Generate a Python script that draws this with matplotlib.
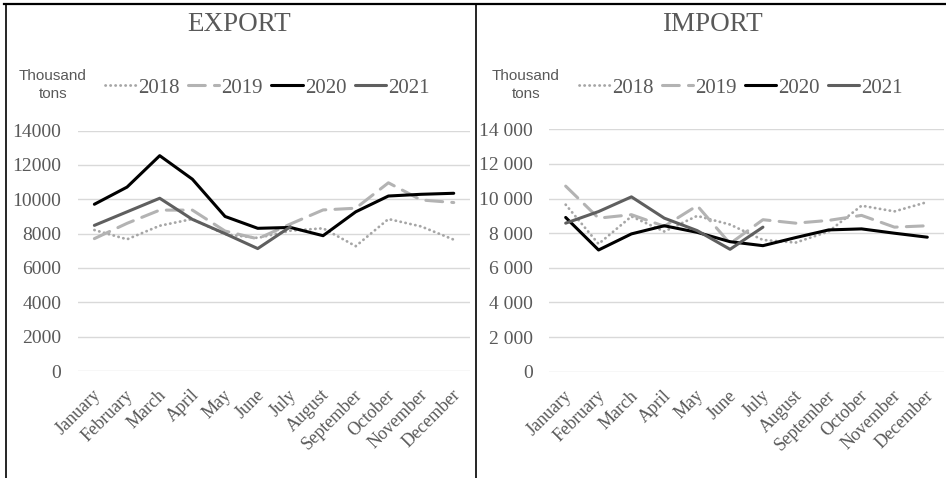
import matplotlib
matplotlib.use('Agg')
import matplotlib.pyplot as plt
from matplotlib.lines import Line2D
from matplotlib.ticker import FuncFormatter
from matplotlib.transforms import ScaledTranslation

months = ['January', 'February', 'March', 'April', 'May', 'June', 'July',
          'August', 'September', 'October', 'November', 'December']
years = ['2018', '2019', '2020', '2021']

# Export, thousand tons
export_2018 = [8210, 7670, 8460, 8850, 7960, 7750, 8170, 8310, 7270, 8850, 8420, 7650]
export_2019 = [7710, 8600, 9370, 9370, 8150, 7700, 8560, 9380, 9480, 10960, 9960, 9810]
export_2020 = [9710, 10710, 12540, 11170, 9000, 8310, 8360, 7880, 9270, 10190, 10290, 10350]
export_2021 = [8480, 9270, 10060, 8830, 8000, 7130, 8400]

# Import, thousand tons
import_2018 = [9650, 7380, 8970, 8100, 9000, 8500, 7610, 7460, 8100, 9590, 9260, 9800]
import_2019 = [10720, 8870, 9070, 8400, 9590, 7400, 8780, 8580, 8740, 9030, 8350, 8430]
import_2020 = [8910, 7030, 7960, 8430, 8050, 7510, 7280, 7750, 8190, 8250, 8000, 7770]
import_2021 = [8580, 9250, 10100, 8870, 8150, 7070, 8350]

yticks = [0, 2000, 4000, 6000, 8000, 10000, 12000, 14000]

text_grey = '#595959'
serif = ['Liberation Serif', 'DejaVu Serif']

styles = [
    dict(color='#a6a6a6', lw=2.0, ls=(0, (0.1, 1.7)), dash_capstyle='round'),
    dict(color='#b3b3b3', lw=2.2, ls=(0, (5.5, 3.0)), dash_capstyle='round'),
    dict(color='#000000', lw=2.2, ls='-', solid_capstyle='round'),
    dict(color='#5f5f5f', lw=2.2, ls='-', solid_capstyle='round'),
]

fig = plt.figure(figsize=(9.46, 4.78), dpi=100)


def draw_panel(rect, series, title, sep, title_x):
    ax = fig.add_axes(rect)
    for vals, st in zip(series, styles):
        ax.plot(range(len(vals)), vals, **st, clip_on=False, zorder=3)
    ax.set_xlim(-0.5, 11.5)
    ax.set_ylim(0, 14000)
    ax.set_yticks(yticks)
    if sep:
        ax.yaxis.set_major_formatter(FuncFormatter(lambda v, p: f'{int(v):,}'.replace(',', ' ')))
    else:
        ax.yaxis.set_major_formatter(FuncFormatter(lambda v, p: f'{int(v)}'))
    ax.set_xticks(range(12))
    ax.set_xticklabels(months, rotation=45, ha='right', va='center',
                       rotation_mode='anchor')
    ax.grid(axis='y', color='#d9d9d9', lw=1.0)
    ax.set_axisbelow(True)
    for s in ax.spines.values():
        s.set_visible(False)
    ax.tick_params(length=0, colors=text_grey)
    ax.tick_params(axis='y', pad=12, labelsize=14)
    ax.tick_params(axis='x', pad=14, labelsize=13)
    shift = ScaledTranslation(4 / 100, -2 / 100, fig.dpi_scale_trans)
    for lab in ax.get_xticklabels():
        lab.set_family(serif)
        lab.set_transform(lab.get_transform() + shift)
    for lab in ax.get_yticklabels():
        lab.set_family(serif)

    fig.text(title_x, 0.948, title, ha='center', va='center', fontsize=19.5,
             family=serif, color=text_grey)
    return ax


ax1 = draw_panel([0.0825, 0.2238, 0.4144, 0.503],
                 [export_2018, export_2019, export_2020, export_2021],
                 'EXPORT', False, 0.253)
ax2 = draw_panel([0.5806, 0.2224, 0.417, 0.507],
                 [import_2018, import_2019, import_2020, import_2021],
                 'IMPORT', True, 0.753)

# unit label and legend above each panel
for ux, lx in [(0.056, 0.2825), (0.556, 0.783)]:
    fig.text(ux, 0.84, 'Thousand', ha='center', va='center', fontsize=11,
             family=['Liberation Sans', 'DejaVu Sans'], color=text_grey)
    fig.text(ux, 0.803, 'tons', ha='center', va='center', fontsize=11,
             family=['Liberation Sans', 'DejaVu Sans'], color=text_grey)
    handles = [Line2D([], [], **st) for st in styles]
    fig.legend(handles, years, loc='center', bbox_to_anchor=(lx, 0.816),
               ncol=4, frameon=False, handlelength=1.5, handletextpad=0.1,
               columnspacing=0.4, prop={'family': 'Liberation Serif', 'size': 15},
               labelcolor=text_grey)

# table frame around the two panels
frame = dict(color='black', transform=fig.transFigure)
fig.add_artist(Line2D([0.004, 1.0], [0.991, 0.991], lw=1.6, **frame))
fig.add_artist(Line2D([0.006, 0.006], [0.0, 0.991], lw=1.2, **frame))
fig.add_artist(Line2D([0.5035, 0.5035], [0.0, 0.991], lw=1.2, **frame))

fig.savefig('out.png', dpi=100)
